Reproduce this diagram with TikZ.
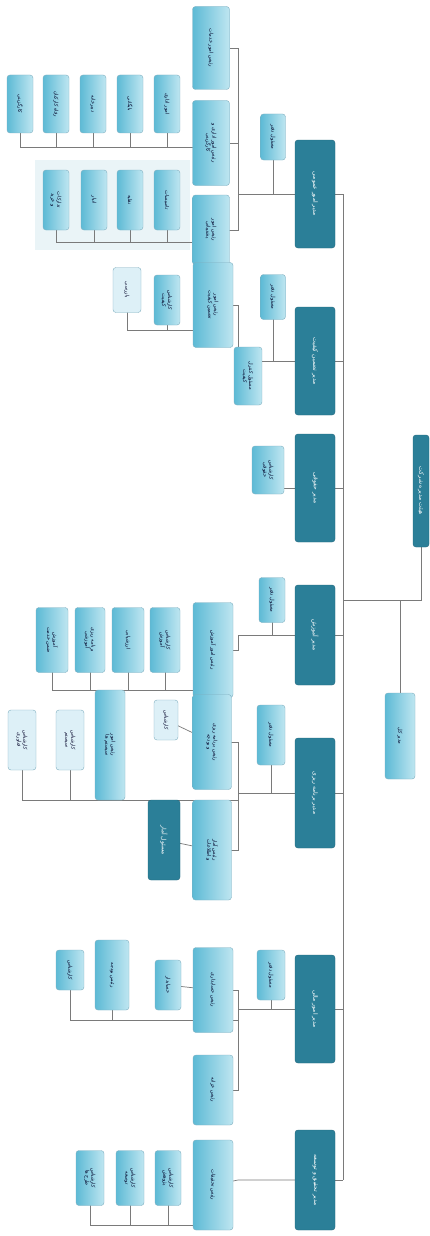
\documentclass[tikz,border=0pt]{standalone}
\usepackage{fontspec}
\newfontfamily\fa[Script=Arabic]{DejaVu Sans}
\TeXXeTstate=1
\newcommand{\ar}[1]{{\fa\beginR #1\endR}}
\newcommand{\bx}[7]{\node[#1, minimum width=#6pt, minimum height=#5pt] (#2) at (#3,#4) {#7};}
\pgfdeclarelayer{bg}\pgfdeclarelayer{lines}
\pgfsetlayers{bg,lines,main}
\definecolor{teal1}{HTML}{2B7F98}
\definecolor{teal2}{HTML}{22687E}
\definecolor{lb1}{HTML}{5DBAD5}
\definecolor{lb2}{HTML}{BFE6F1}
\definecolor{lbd}{HTML}{7FAFC0}
\definecolor{pale}{HTML}{DDF0F7}
\definecolor{panel}{HTML}{EAF4F7}
\definecolor{lnc}{HTML}{7A7A7A}
\tikzset{
 base/.style={rotate=-90, rounded corners=3pt, inner sep=1pt, align=center, font=\fontsize{5}{6}\selectfont},
 dark/.style={base, fill=teal1, draw=teal2, text=white, font=\fontsize{6}{7}\selectfont},
 light/.style={base, left color=lb1, right color=lb2, draw=lbd, text=black!85!blue},
 pbox/.style={base, fill=pale, draw=lbd, text=black!85!blue},
 conn/.style={draw=lnc, line width=0.7pt}
}
\begin{document}
\begin{tikzpicture}[x=1pt,y=-1pt]
\begin{pgfonlayer}{bg}
\fill[white] (0,0) rectangle (430,1236);
\fill[panel] (35,160) rectangle (190,250);
\end{pgfonlayer}
\useasboundingbox (0,0) rectangle (430,1236);
% root and assistant
\bx{dark}{root}{421}{491}{16}{112}{\ar{هیئت مدیره شرکت}}
\bx{light}{asst}{400}{736}{30}{86}{\ar{مدیر کل}}
% managers
\bx{dark}{m1}{315}{194}{40}{108}{\ar{مدیر امور عمومی}}
\bx{dark}{m2}{315}{361}{40}{108}{\ar{مدیر تضمین کیفیت}}
\bx{dark}{m3}{315}{488}{40}{108}{\ar{مدیر حقوقی}}
\bx{dark}{m4}{315}{635}{40}{100}{\ar{مدیر آموزش}}
\bx{dark}{m5}{315}{793}{40}{110}{\ar{مدیر برنامه ریزی}}
\bx{dark}{m6}{315}{1009}{40}{108}{\ar{مدیر امور مالی}}
\bx{dark}{m7}{315}{1180}{40}{100}{\ar{مدیر تحقیق و توسعه}}
% group 1
\bx{light}{s1}{273}{137}{25}{46}{\ar{مسئول دفتر}}
\bx{light}{a1}{211}{48}{37}{83}{\ar{رئیس امور خدمات}}
\bx{light}{b1}{211}{143}{37}{85}{\ar{رئیس امور اداری و}\\\ar{کارگزینی}}
\bx{light}{c1}{211}{230}{37}{70}{\ar{رئیس امور}\\\ar{پشتیبانی}}
\bx{light}{l11}{20}{104}{26}{58}{\ar{کارگزینی}}
\bx{light}{l12}{56}{104}{26}{58}{\ar{رفاه کارکنان}}
\bx{light}{l13}{93}{104}{26}{58}{\ar{دبیرخانه}}
\bx{light}{l14}{130}{104}{26}{58}{\ar{بایگانی}}
\bx{light}{l15}{167}{104}{26}{58}{\ar{امور اداری}}
\bx{light}{l21}{56}{200}{26}{60}{\ar{تدارکات}\\\ar{و خرید}}
\bx{light}{l22}{94}{200}{26}{60}{\ar{انبار}}
\bx{light}{l23}{130}{200}{26}{60}{\ar{نقلیه}}
\bx{light}{l24}{167}{200}{26}{60}{\ar{تاسیسات}}
% group 2
\bx{light}{s2}{273}{297}{25}{45}{\ar{مسئول دفتر}}
\bx{light}{x2}{248}{376}{28}{58}{\ar{مسئول کنترل}\\\ar{کیفیت}}
\bx{light}{a2}{213}{305}{40}{85}{\ar{رئیس امور}\\\ar{تضمین کیفیت}}
\bx{light}{l31}{167}{300}{26}{50}{\ar{کارشناس}\\\ar{کیفیت}}
\bx{pbox}{l32}{127}{290}{28}{45}{\ar{بازرسی}}
% group 3
\bx{light}{s3}{268}{470}{32}{48}{\ar{کارشناس}\\\ar{حقوقی}}
% group 4
\bx{light}{s4}{272}{600}{26}{45}{\ar{مسئول دفتر}}
\bx{light}{a4}{213}{650}{40}{95}{\ar{رئیس امور آموزش}}
\bx{light}{l41}{52}{640}{32}{65}{\ar{آموزش}\\\ar{ضمن خدمت}}
\bx{light}{l42}{90}{640}{30}{65}{\ar{برنامه ریزی}\\\ar{آموزشی}}
\bx{light}{l43}{128}{640}{32}{65}{\ar{ارزشیابی}}
\bx{light}{l44}{165}{640}{30}{65}{\ar{کارشناس}\\\ar{آموزش}}
% group 5
\bx{light}{s5}{271}{735}{28}{60}{\ar{مسئول دفتر}}
\bx{light}{a5}{212}{742}{39}{95}{\ar{رئیس برنامه ریزی}\\\ar{و بودجه}}
\bx{light}{b5}{212}{850}{39}{100}{\ar{رئیس آمار}\\\ar{و اطلاعات}}
\bx{dark}{d5}{164}{840}{32}{80}{\ar{مسئول آمار}}
\bx{pbox}{l51}{166}{720}{24}{40}{\ar{کارشناس}}
\bx{light}{c5}{110}{745}{30}{110}{\ar{رئیس امور}\\\ar{سیستم ها}}
\bx{pbox}{l52}{70}{740}{28}{60}{\ar{کارشناس}\\\ar{سیستم}}
\bx{pbox}{l53}{22}{740}{28}{60}{\ar{کارشناس}\\\ar{فناوری}}
% group 6
\bx{light}{s6}{271}{975}{28}{50}{\ar{مسئول دفتر}}
\bx{light}{a6}{213}{990}{40}{85}{\ar{رئیس حسابداری}}
\bx{light}{b6}{213}{1090}{40}{70}{\ar{رئیس خزانه}}
\bx{light}{l61}{168}{985}{26}{50}{\ar{حسابدار}}
\bx{light}{c6}{112}{975}{34}{70}{\ar{رئیس بودجه}}
\bx{light}{l62}{70}{970}{28}{40}{\ar{کارشناس}}
% group 7
\bx{light}{a7}{213}{1185}{40}{90}{\ar{رئیس تحقیقات}}
\bx{light}{l71}{168}{1178}{26}{55}{\ar{کارشناس}\\\ar{پژوهش}}
\bx{light}{l72}{130}{1178}{28}{55}{\ar{کارشناس}\\\ar{توسعه}}
\bx{light}{l73}{90}{1178}{28}{55}{\ar{کارشناس}\\\ar{طرح ها}}
% coordinates
\coordinate (ttop) at (343,194);
\coordinate (tbot) at (343,1180);
\coordinate (rj) at (421,600);
\coordinate (g1) at (238,194);
\coordinate (r1) at (20,147);
\coordinate (r2) at (56,242);
\coordinate (g2) at (238,361);
\coordinate (r3) at (127,330);
\coordinate (g4) at (238,635);
\coordinate (r4) at (52,690);
\coordinate (g5) at (238,793);
\coordinate (r5) at (22,800);
\coordinate (g6) at (238,1009);
\coordinate (r6) at (70,1020);
\coordinate (g7) at (238,1180);
\coordinate (r7) at (90,1225);
\begin{pgfonlayer}{lines}
\draw[conn] (ttop) -- (tbot);
\foreach \m in {m1,m2,m3,m4,m5,m6,m7}{\draw[conn] (\m.center) -- (ttop |- \m.center);}
\draw[conn] (root.center) -- (rj) -- (ttop |- rj);
\draw[conn] (asst.center) -- (asst.center |- rj);
% g1
\draw[conn] (m1.center) -- (g1);
\draw[conn] (s1.center) -- (s1.center |- m1.center);
\draw[conn] (a1.center) -- (g1 |- a1.center) -- (g1 |- c1.center) -- (c1.center);
\draw[conn] (b1.center) -- (g1 |- b1.center);
\draw[conn] (r1) -- (b1.center |- r1);
\foreach \l in {l11,l12,l13,l14,l15}{\draw[conn] (\l.center) -- (\l.center |- r1);}
\draw[conn] (r2) -- (c1.center |- r2);
\foreach \l in {l21,l22,l23,l24}{\draw[conn] (\l.center) -- (\l.center |- r2);}
% g2
\draw[conn] (m2.center) -- (g2) -- (g2 |- a2.center) -- (a2.center);
\draw[conn] (s2.center) -- (s2.center |- m2.center);
\draw[conn] (x2.center) -- (x2.center |- m2.center);
\draw[conn] (r3) -- (a2.center |- r3);
\foreach \l in {l31,l32}{\draw[conn] (\l.center) -- (\l.center |- r3);}
% g3
\draw[conn] (s3.center) -- (s3.center |- m3.center) -- (m3.center);
% g4
\draw[conn] (m4.center) -- (g4) -- (g4 |- a4.center) -- (a4.center);
\draw[conn] (s4.center) -- (s4.center |- m4.center);
\draw[conn] (r4) -- (a4.center |- r4);
\foreach \l in {l41,l42,l43,l44}{\draw[conn] (\l.center) -- (\l.center |- r4);}
% g5
\draw[conn] (m5.center) -- (g5);
\draw[conn] (s5.center) -- (s5.center |- m5.center);
\draw[conn] (a5.center) -- (g5 |- a5.center) -- (g5 |- b5.center) -- (b5.center);
\draw[conn] (b5.center) -- (d5.center);
\draw[conn] (a5.center) -- (l51.center);
\draw[conn] (r5) -- (g5 |- r5);
\foreach \l in {c5,l52,l53}{\draw[conn] (\l.center) -- (\l.center |- r5);}
% g6
\draw[conn] (m6.center) -- (g6);
\draw[conn] (s6.center) -- (s6.center |- m6.center);
\draw[conn] (a6.center) -- (g6 |- a6.center) -- (g6 |- b6.center) -- (b6.center);
\draw[conn] (a6.center) -- (l61.center);
\draw[conn] (r6) -- (g6 |- r6);
\foreach \l in {c6,l62}{\draw[conn] (\l.center) -- (\l.center |- r6);}
% g7
\draw[conn] (m7.center) -- (g7) -- (a7.center);
\draw[conn] (r7) -- (a7.center |- r7);
\foreach \l in {l71,l72,l73}{\draw[conn] (\l.center) -- (\l.center |- r7);}
\end{pgfonlayer}
\end{tikzpicture}
\end{document}
